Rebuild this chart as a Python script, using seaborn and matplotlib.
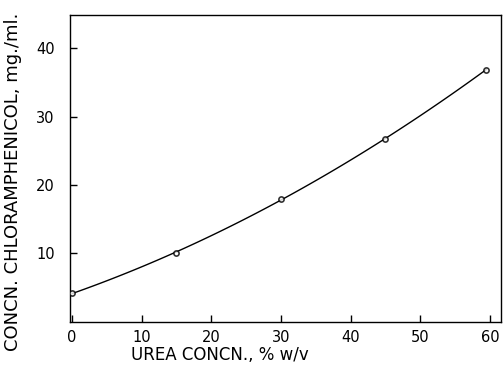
import matplotlib
matplotlib.use("Agg")
import matplotlib.pyplot as plt
import seaborn as sns
import pandas as pd

urea = [0, 15, 30, 45, 59.5]
chloramphenicol = [4.2, 10.0, 18.0, 26.8, 36.9]
xticks = [0, 10, 20, 30, 40, 50, 60]
yticks = [10, 20, 30, 40]

sns.set_theme(style="ticks")
plt.rcParams['font.family'] = ['DejaVu Sans']
plt.rcParams['text.color'] = 'black'
plt.rcParams['axes.labelcolor'] = 'black'

df = pd.DataFrame({"urea": urea, "chl": chloramphenicol})

fig = plt.figure(figsize=(5.03, 3.65), dpi=100)
ax = fig.add_axes([0.139, 0.1186, 0.857, 0.8404])

sns.regplot(data=df, x="urea", y="chl", order=2, ci=None, ax=ax,
            truncate=True,
            scatter_kws=dict(s=14, facecolors="white", edgecolors="black", linewidths=1.2, zorder=3),
            line_kws=dict(color="black", lw=1.0))

ax.set_xlim(-0.3, 61.6)
ax.set_ylim(0, 44.9)
ax.set_xticks(xticks)
ax.set_yticks(yticks)
ax.tick_params(direction="in", length=5, width=1, colors="black", labelsize=10.5)
ax.tick_params(axis="y", pad=11)
ax.tick_params(axis="x", pad=6)
for s in ax.spines.values():
    s.set_color("black")
    s.set_linewidth(1.0)

ax.set_xlabel("UREA CONCN., % w/v", fontsize=12)
ax.set_ylabel("CONCN. CHLORAMPHENICOL, mg./ml.", fontsize=13)
ax.xaxis.set_label_coords(0.348, -0.08)
ax.yaxis.set_label_coords(-0.11, 0.455)

fig.savefig("out.png", dpi=100)
